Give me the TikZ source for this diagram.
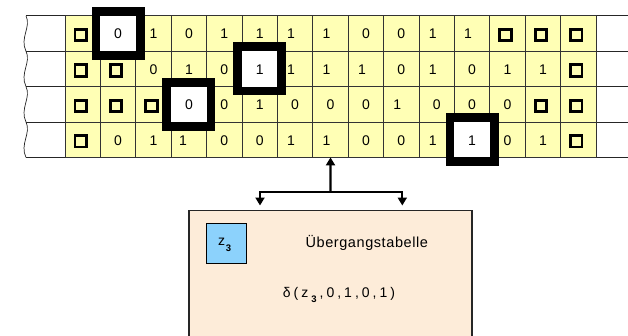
\documentclass[tikz,border=0pt]{standalone}
\usepackage{fontspec}
\setmainfont{Liberation Sans}
\usetikzlibrary{arrows.meta}

\definecolor{tapeyellow}{RGB}{255,255,181}
\definecolor{tablepeach}{RGB}{253,236,217}
\definecolor{stateblue}{RGB}{140,210,252}

\tikzset{
  tapeline/.style={draw=black!85, line width=0.8pt},
  cellbox/.style={rectangle, draw=black!80, line width=0.8pt, fill=tapeyellow,
    minimum width=35.4pt, minimum height=35.4pt, inner sep=0pt, outer sep=0pt},
  blankmark/.style={rectangle, draw=black, line width=2.8pt, fill=none,
    minimum size=11.4pt, inner sep=0pt, outer sep=0pt},
  digit/.style={inner sep=0pt, font=\fontsize{14}{16}\selectfont},
  headframe/.style={rectangle, draw=black, line width=8.8pt, fill=white,
    minimum size=44.2pt, inner sep=0pt, outer sep=0pt},
  tablebox/.style={rectangle, draw=black!85, line width=1.2pt, fill=tablepeach,
    minimum width=283pt, minimum height=140pt, inner sep=0pt, outer sep=0pt},
  statebox/.style={rectangle, draw=black, line width=1pt, fill=stateblue,
    minimum size=40pt, inner sep=0pt, outer sep=0pt},
  conn/.style={line width=2.3pt, line join=miter},
  headtip/.tip={Triangle[width=9pt,length=8pt]}
}

% tape contents: s = blank symbol; last entry = column under the head
\def\tracklist{1/{s,0,1,0,1,1,1,1,0,0,1,1,s,s,s}/1,
               2/{s,s,0,1,0,1,1,1,1,0,1,0,1,1,s}/5,
               3/{s,s,s,0,0,1,0,0,0,1,0,0,0,s,s}/3,
               4/{s,0,1,1,0,0,1,1,0,0,1,1,0,1,s}/11}
\def\blanksym{s}
\def\onesym{1}

\begin{document}
\begin{tikzpicture}[x=1pt,y=-1pt]
\clip (0,0) rectangle (628,335);
\useasboundingbox (0,0) rectangle (628,335);

% horizontal track lines of the four-track tape
\foreach \y in {15.8,51.2,86.6,122.0,157.4}
  \draw[tapeline] (26,\y) -- (628,\y);

% torn left edge, one wave per track
\foreach \r in {0,1,2,3}{
  \pgfmathsetmacro\yt{15.8+35.4*\r}
  \pgfmathsetmacro\yb{\yt+35.4}
  \draw[tapeline, line width=0.7pt] (26,\yt) .. controls (31.5,\yt+11) and (19.5,\yt+22) .. (26,\yb);
}

% yellow cells
\foreach \r/\row/\hc in \tracklist {
  \foreach \v [count=\c from 0] in \row {
    \pgfmathsetmacro\cx{65+35.4*(\c+0.5)}
    \pgfmathsetmacro\cy{15.8+35.4*(\r-0.5)}
    \node[cellbox] (cell-\r-\c) at (\cx,\cy) {};
  }
}

% read/write heads, one per track
\node[headframe] (head-1) at (cell-1-1) {};
\node[headframe] (head-2) at (cell-2-5) {};
\node[headframe] (head-3) at (cell-3-3) {};
\node[headframe] (head-4) at (cell-4-11) {};

% symbols on the tape
\foreach \r/\row/\hc in \tracklist {
  \foreach \v [count=\c from 0] in \row {
    \pgfmathsetmacro\cx{65+35.4*(\c+0.5)}
    \pgfmathsetmacro\cy{15.8+35.4*(\r-0.5)}
    \edef\cur{\v}
    \ifx\cur\blanksym
      \node[blankmark] (sym-\r-\c) at (\cx-2,\cy+1.5) {};
    \else
      \def\dx{0}
      \ifx\cur\onesym
        \ifnum\c>5 \ifnum\c<12 \ifnum\c=\hc\else\def\dx{-4}\fi\fi\fi
        \ifnum\r=4 \ifnum\c=3 \def\dx{-6}\fi\fi
      \fi
      \node[digit] (sym-\r-\c) at (\cx+\dx,\cy+0.5) {\v};
    \fi
  }
}

% control unit
\node[tablebox, anchor=north west] (table) at (189,210.5) {};
\node[statebox] (state) at (226.7,243) {};
\node[anchor=base, inner sep=0pt, font=\fontsize{14}{16}\selectfont] (statelabel) at (224.6,245.5)
  {z\kern0.8pt\raisebox{-5.5pt}{\fontsize{9.5}{9.5}\selectfont\bfseries 3}};
\node[anchor=base, inner sep=0pt, font=\fontsize{14.5}{16}\selectfont\addfontfeature{LetterSpace=4}] (title) at (366.8,247.7) {Übergangstabelle};
\node[anchor=base, inner sep=0pt, font=\fontsize{14}{16}\selectfont] (delta) at (339,297)
  {δ\kern3pt(\kern3pt z\kern3pt\raisebox{-5.5pt}{\fontsize{9.5}{9.5}\selectfont\bfseries 3}\kern3pt,\kern3pt 0\kern3pt,\kern3pt 1\kern3pt,\kern3pt 0\kern3pt,\kern3pt 1\kern3pt)};

% head movement connectors
\coordinate (fork) at (330.5,192.3);
\coordinate (forkl) at (260,192.3);
\coordinate (forkr) at (402.3,192.3);
\coordinate (tipl) at (260,205.5);
\coordinate (tipr) at (402.3,205.5);
\draw[conn, -{headtip}] (fork) -- (cell-4-7.south);
\draw[conn, {headtip}-{headtip}] (tipl) -- (forkl) -- (forkr) -- (tipr);
\end{tikzpicture}
\end{document}
